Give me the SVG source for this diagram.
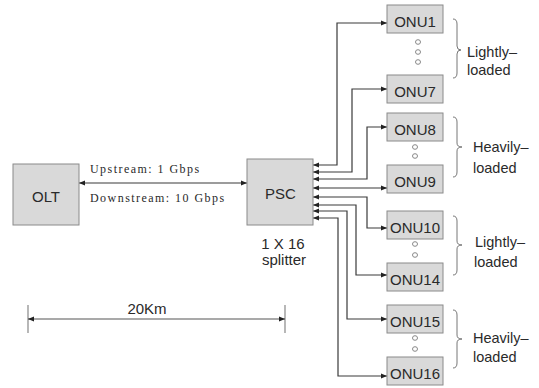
<svg xmlns="http://www.w3.org/2000/svg" width="539" height="388" viewBox="0 0 539 388">
<style>
.box{fill:#d9d9d9;stroke:#8a8a8a;stroke-width:1}
.t{font-family:"Liberation Sans",Arial,sans-serif;font-size:15px;fill:#2a2a2a}
.lab{font-family:"Liberation Sans",Arial,sans-serif;font-size:14.5px;fill:#2a2a2a}
.serif{font-family:"Liberation Serif","Times New Roman",serif;font-size:12px;letter-spacing:1.45px;fill:#2a2a2a}
.c{fill:none;stroke:#3a3a3a;stroke-width:1.2;marker-start:url(#ah);marker-end:url(#ah)}
.dim{fill:none;stroke:#555;stroke-width:1.2;marker-start:url(#ah);marker-end:url(#ah)}
.tick{stroke:#888;stroke-width:1.2}
.brace{fill:none;stroke:#777;stroke-width:1}
.dot{fill:none;stroke:#888;stroke-width:1}
</style>
<defs>
<marker id="ah" viewBox="0 0 6 6" refX="6" refY="3" markerWidth="6" markerHeight="6" markerUnits="userSpaceOnUse" orient="auto-start-reverse">
<path d="M0,0.5 L6,3 L0,5.5 z" fill="#222"/>
</marker>
</defs>
<rect width="539" height="388" fill="#ffffff"/>

<g id="connectors">
<path class="c" d="M79,183 H247"/>
<path class="c" d="M313,165 H337 V23 H387"/>
<path class="c" d="M313,172 H352 V89 H387"/>
<path class="c" d="M313,179 H367 V127 H387"/>
<path class="c" d="M313,188 H387"/>
<path class="c" d="M313,197 H367 V228 H387"/>
<path class="c" d="M313,205 H356 V275 H387"/>
<path class="c" d="M313,211 H347 V319 H387"/>
<path class="c" d="M313,218 H338 V376 H387"/>
</g>

<g id="OLT">
<rect class="box" x="13" y="164" width="66" height="61"/>
<text class="t" x="46" y="202" text-anchor="middle">OLT</text>
</g>

<g id="link-labels">
<text class="serif" x="90" y="173">Upstream: 1 Gbps</text>
<text class="serif" x="90" y="202">Downstream: 10 Gbps</text>
</g>

<g id="PSC">
<rect class="box" x="247" y="159" width="66" height="66"/>
<text class="t" x="280.5" y="199" text-anchor="middle">PSC</text>
<text class="t" x="283" y="249" text-anchor="middle">1 X 16</text>
<text class="t" x="284" y="265" text-anchor="middle">splitter</text>
</g>

<g id="ONU1"><rect class="box" x="387" y="5" width="56" height="28"/><text class="t" x="415" y="27" text-anchor="middle">ONU1</text></g>
<g id="ONU7"><rect class="box" x="387" y="75" width="56" height="28"/><text class="t" x="415" y="97" text-anchor="middle">ONU7</text></g>
<g id="ONU8"><rect class="box" x="387" y="113" width="56" height="28"/><text class="t" x="415" y="135" text-anchor="middle">ONU8</text></g>
<g id="ONU9"><rect class="box" x="387" y="165" width="56" height="28"/><text class="t" x="415" y="187" text-anchor="middle">ONU9</text></g>
<g id="ONU10"><rect class="box" x="387" y="211" width="56" height="28"/><text class="t" x="415" y="233" text-anchor="middle">ONU10</text></g>
<g id="ONU14"><rect class="box" x="387" y="263" width="56" height="28"/><text class="t" x="415" y="285" text-anchor="middle">ONU14</text></g>
<g id="ONU15"><rect class="box" x="387" y="305" width="56" height="28"/><text class="t" x="415" y="327" text-anchor="middle">ONU15</text></g>
<g id="ONU16"><rect class="box" x="387" y="357" width="56" height="28"/><text class="t" x="415" y="379" text-anchor="middle">ONU16</text></g>

<g id="ellipsis">
<ellipse class="dot" cx="418" cy="42" rx="2.5" ry="2.3"/>
<ellipse class="dot" cx="418" cy="52" rx="2.5" ry="2.3"/>
<ellipse class="dot" cx="418" cy="62" rx="2.5" ry="2.3"/>
<ellipse class="dot" cx="415" cy="147" rx="2.5" ry="2.3"/>
<ellipse class="dot" cx="415" cy="156" rx="2.5" ry="2.3"/>
<ellipse class="dot" cx="415" cy="244" rx="2.5" ry="2.3"/>
<ellipse class="dot" cx="415" cy="255" rx="2.5" ry="2.3"/>
<ellipse class="dot" cx="415" cy="338" rx="2.5" ry="2.3"/>
<ellipse class="dot" cx="415" cy="349" rx="2.5" ry="2.3"/>
</g>

<g id="group1">
<path class="brace" d="M453,19 Q457,19 457,24 V46 Q457,50 461,50 Q457,50 457,54 V73 Q457,78 453,78"/>
<text class="lab" x="467" y="57">Lightly–</text>
<text class="lab" x="467" y="75">loaded</text>
</g>
<g id="group2">
<path class="brace" d="M453,117 Q457,117 457,122 V143 Q457,147 462,147 Q457,147 457,151 V172 Q457,177 453,177"/>
<text class="lab" x="473" y="152">Heavily–</text>
<text class="lab" x="473" y="173">loaded</text>
</g>
<g id="group3">
<path class="brace" d="M453,216 Q457,216 457,221 V241 Q457,245 462,245 Q457,245 457,249 V270 Q457,275 453,275"/>
<text class="lab" x="475" y="247">Lightly–</text>
<text class="lab" x="474" y="267">loaded</text>
</g>
<g id="group4">
<path class="brace" d="M453,310 Q457,310 457,315 V335 Q457,339 462,339 Q457,339 457,343 V363 Q457,368 453,368"/>
<text class="lab" x="473" y="343">Heavily–</text>
<text class="lab" x="473" y="362">loaded</text>
</g>

<g id="distance">
<line class="tick" x1="28" y1="305" x2="28" y2="333"/>
<line class="tick" x1="285" y1="305" x2="285" y2="333"/>
<path class="dim" d="M28,319 H285"/>
<text class="t" x="147" y="314" text-anchor="middle">20Km</text>
</g>
</svg>
